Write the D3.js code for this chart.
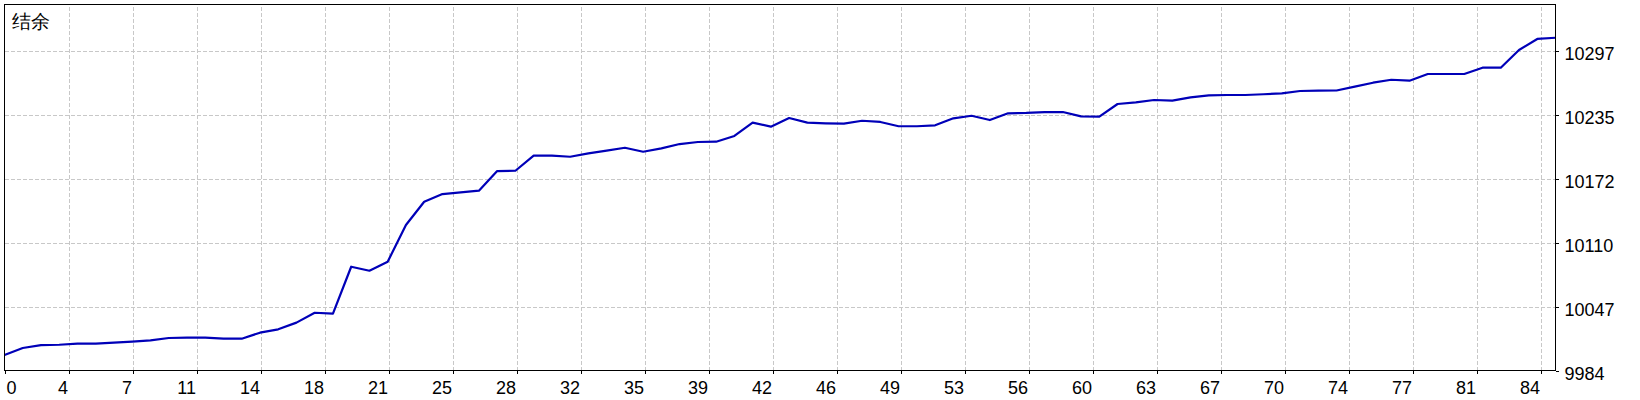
<!DOCTYPE html>
<html>
<head>
<meta charset="utf-8">
<script src="https://cdn.jsdelivr.net/npm/d3@7"></script>
<style>
  html, body { margin: 0; padding: 0; background: #fff; }
  svg { display: block; }
  text { font-family: "Liberation Sans", Arial, sans-serif; }
</style>
</head>
<body>
<svg id="chart" width="1640" height="400"></svg>
<script>
// ---- data ----
const title = "结余";
const balance = [
  9999.2, 10006.0, 10008.9, 10009.2, 10010.2, 10010.2, 10011.2, 10012.2, 10013.5, 10015.8,
  10016.1, 10016.1, 10015.1, 10015.1, 10021.0, 10024.3, 10030.8, 10040.5, 10039.6, 10085.5,
  10081.6, 10090.4, 10126.3, 10149.1, 10156.6, 10158.3, 10159.9, 10179.1, 10179.4, 10194.1,
  10194.1, 10193.1, 10196.4, 10199.0, 10201.9, 10198.0, 10201.3, 10205.5, 10207.5, 10207.8,
  10213.4, 10226.4, 10222.5, 10231.0, 10226.4, 10225.8, 10225.4, 10228.3, 10227.1, 10222.9,
  10222.9, 10223.8, 10230.7, 10233.2, 10229.0, 10235.6, 10235.9, 10236.8, 10236.8, 10232.6,
  10232.3, 10244.7, 10246.3, 10248.6, 10247.9, 10251.2, 10253.2, 10253.5, 10253.5, 10254.2,
  10255.1, 10257.4, 10257.7, 10257.9, 10261.6, 10265.5, 10268.4, 10267.5, 10274.0, 10274.0,
  10274.0, 10280.2, 10280.2, 10297.5, 10308.3, 10309.5
];
const xTickLabels = [0, 4, 7, 11, 14, 18, 21, 25, 28, 32, 35, 39, 42, 46, 49, 53, 56, 60, 63, 67, 70, 74, 77, 81, 84];
const yTickLabels = [9984, 10047, 10110, 10172, 10235, 10297];
const yMin = 9984, yStep = 62.6, yMax = 10342;

// ---- layout ----
const L = 4.5, R = 1555.5, T = 4.5, B = 370.5;
const tickPx = 64;

const svg = d3.select("#chart");
const x = d3.scaleLinear().domain([0, balance.length - 1]).range([L, R]);
const y = d3.scaleLinear().domain([yMin, yMax]).range([B, T]);

const xTickVals = xTickLabels.map((d, k) => x.invert(L + k * tickPx));
const yTickVals = yTickLabels.map((d, k) => yMin + k * yStep);

// grid
const gridX = svg.append("g").attr("transform", `translate(0,${B})`)
  .call(d3.axisBottom(x).tickValues(xTickVals.slice(1)).tickSize(-(B - T)).tickFormat(""));
gridX.select(".domain").remove();
gridX.selectAll("line").attr("stroke", "#c8c8c8").attr("stroke-dasharray", "4,2").attr("shape-rendering", "crispEdges");

const gridY = svg.append("g").attr("transform", `translate(${L},0)`)
  .call(d3.axisLeft(y).tickValues(yTickVals.slice(1)).tickSize(-(R - L)).tickFormat(""));
gridY.select(".domain").remove();
gridY.selectAll("line").attr("stroke", "#c8c8c8").attr("stroke-dasharray", "4,2").attr("shape-rendering", "crispEdges");

// x axis
const xAxis = svg.append("g").attr("transform", `translate(0,${B})`)
  .call(d3.axisBottom(x).tickValues(xTickVals).tickSize(3).tickSizeOuter(0)
    .tickFormat((d, i) => xTickLabels[i]));
xAxis.select(".domain").remove();
xAxis.selectAll("line").attr("stroke", "#000").attr("shape-rendering", "crispEdges");
xAxis.selectAll("text")
  .attr("font-size", 18).attr("fill", "#000")
  .attr("font-family", "'Liberation Sans', Arial, sans-serif")
  .attr("dy", null).attr("y", 23)
  .attr("text-anchor", (d, i) => i === 0 ? "start" : "end")
  .attr("x", (d, i) => i === 0 ? 1.5 : -1);

// y axis
const yAxis = svg.append("g").attr("transform", `translate(${R},0)`)
  .call(d3.axisRight(y).tickValues(yTickVals).tickSize(3).tickSizeOuter(0)
    .tickFormat((d, i) => yTickLabels[i]));
yAxis.select(".domain").remove();
yAxis.selectAll("line").attr("stroke", "#000").attr("shape-rendering", "crispEdges");
yAxis.selectAll("text")
  .attr("font-size", 18).attr("fill", "#000")
  .attr("font-family", "'Liberation Sans', Arial, sans-serif")
  .attr("dy", null).attr("x", 9).attr("y", 8.5)
  .attr("text-anchor", "start");

// balance line
svg.append("path")
  .datum(balance)
  .attr("fill", "none")
  .attr("stroke", "#0000b8")
  .attr("stroke-width", 2.2)
  .attr("stroke-linejoin", "round")
  .attr("d", d3.line().x((d, i) => x(i)).y(d => y(d)));

// frame
svg.append("rect")
  .attr("x", L).attr("y", T).attr("width", R - L).attr("height", B - T)
  .attr("fill", "none").attr("stroke", "#000").attr("stroke-width", 1)
  .attr("shape-rendering", "crispEdges");

// title
svg.append("text")
  .attr("x", 12).attr("y", 28)
  .attr("font-family", "'Noto Sans CJK SC', sans-serif")
  .attr("font-size", 19).attr("font-weight", 300).attr("fill", "#000")
  .text(title);
</script>
</body>
</html>
